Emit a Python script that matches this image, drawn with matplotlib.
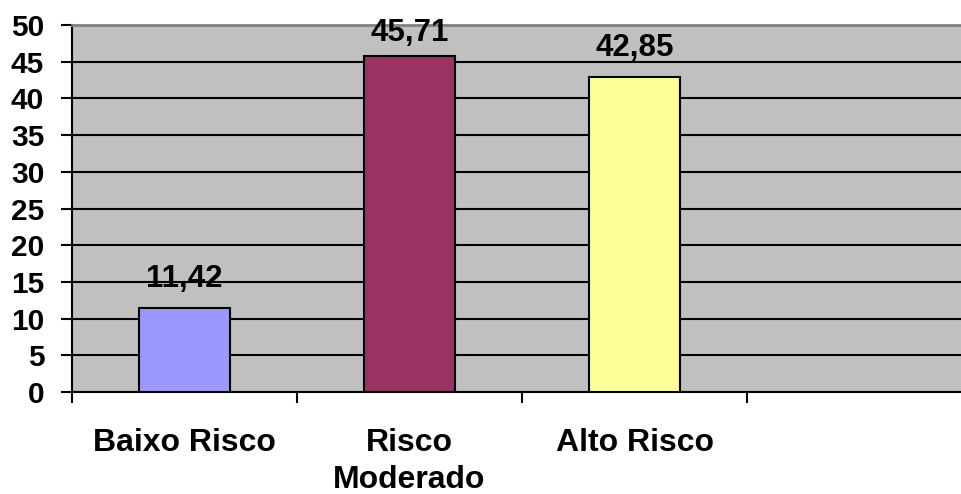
import matplotlib as mpl
import matplotlib.pyplot as plt
import numpy as np

mpl.rcParams['font.family'] = ['Liberation Sans', 'DejaVu Sans']
mpl.rcParams['font.weight'] = 'bold'

# data
categorias = ['Baixo Risco', 'Risco\nModerado', 'Alto Risco', '']
valores = [11.42, 45.71, 42.85]
rotulos = ['11,42', '45,71', '42,85']
cores = ['#9999FF', '#993366', '#FFFF99']

fig = plt.figure(figsize=(9.61, 4.94), dpi=100)
# plot area runs past the right edge, like the original
ax = fig.add_axes([72/961, 102/494, 900/961, 367/494])
ax.set_facecolor('#C0C0C0')

x = np.arange(len(valores)) + 0.5
bars = ax.bar(x, valores, width=0.405, color=cores, edgecolor='black',
              linewidth=1.5, zorder=3)
for b, r in zip(bars, rotulos):
    # label sits above the bar, pushed down if it would leave the plot area
    yl = min(b.get_height() + 2.9, 47.8)
    ax.text(b.get_x() + b.get_width()/2, yl, r, ha='center', va='baseline',
            fontsize=22.5, fontweight='bold', zorder=5)

ax.set_xlim(0, len(categorias))
ax.set_ylim(0, 50)
ax.set_yticks(np.arange(0, 51, 5))
ax.yaxis.grid(True, color='black', linewidth=1.5, zorder=1)
ax.set_axisbelow(True)

ax.set_xticks(np.arange(len(categorias) + 1))
ax.set_xticklabels([])
ax.set_xticks(np.arange(len(categorias)) + 0.5, minor=True)
ax.set_xticklabels(categorias, minor=True, fontsize=23, fontweight='bold',
                   va='top', linespacing=1.3)
ax.tick_params(axis='x', which='major', direction='out', length=8, width=1.5)
ax.tick_params(axis='x', which='minor', length=0, pad=26)
ax.tick_params(axis='y', direction='out', length=8, width=1.5, pad=12,
               labelsize=21.5)
for t in ax.get_yticklabels():
    t.set_fontweight('bold')

ax.spines['left'].set_linewidth(1.5)
ax.spines['bottom'].set_linewidth(1.5)
ax.spines['top'].set_color('#808080')
ax.spines['top'].set_linewidth(2)
ax.spines['right'].set_visible(False)

fig.savefig('out.png', dpi=100)
